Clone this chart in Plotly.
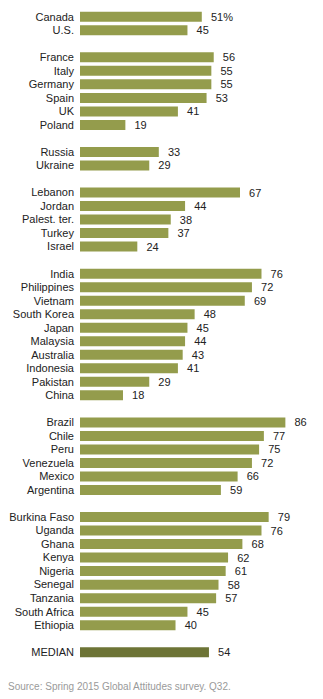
import plotly.graph_objects as go

groups = [
    (["Canada", "U.S."], [51, 45]),
    (["France", "Italy", "Germany", "Spain", "UK", "Poland"], [56, 55, 55, 53, 41, 19]),
    (["Russia", "Ukraine"], [33, 29]),
    (["Lebanon", "Jordan", "Palest. ter.", "Turkey", "Israel"], [67, 44, 38, 37, 24]),
    (["India", "Philippines", "Vietnam", "South Korea", "Japan", "Malaysia", "Australia",
      "Indonesia", "Pakistan", "China"], [76, 72, 69, 48, 45, 44, 43, 41, 29, 18]),
    (["Brazil", "Chile", "Peru", "Venezuela", "Mexico", "Argentina"], [86, 77, 75, 72, 66, 59]),
    (["Burkina Faso", "Uganda", "Ghana", "Kenya", "Nigeria", "Senegal", "Tanzania",
      "South Africa", "Ethiopia"], [79, 76, 68, 62, 61, 58, 57, 45, 40]),
]
median_label = "MEDIAN"
median_value = 54
source = "Source: Spring 2015 Global Attitudes survey. Q32."

cats, vals, colors, texts = [], [], [], []
blank = 0
for gi, (names, values) in enumerate(groups):
    for n, v in zip(names, values):
        cats.append(n)
        vals.append(v)
        colors.append("#949c4c")
        texts.append(f"{v}%" if n == "Canada" else f"{v}")
    blank += 1
    cats.append(" " * blank)
    vals.append(None)
    colors.append("#949c4c")
    texts.append("")
cats.append(median_label)
vals.append(median_value)
colors.append("#6d7436")
texts.append(str(median_value))

FONT = "Liberation Sans, Arial, sans-serif"
fig = go.Figure(go.Bar(
    y=cats, x=vals, orientation="h",
    marker=dict(color=colors, line=dict(width=0)),
    text=["\u00a0\u00a0" + t if t else "" for t in texts],
    textposition="outside", cliponaxis=False, constraintext="none",
    textfont=dict(family=FONT, size=11, color="#222222"),
    hoverinfo="skip",
))

plot_l, plot_r, plot_t, plot_b = 80, 3, 10, 40
plot_w = 323 - plot_l - plot_r
plot_h = 699 - plot_t - plot_b

fig.update_layout(
    width=323, height=699,
    margin=dict(l=plot_l, r=plot_r, t=plot_t, b=plot_b),
    paper_bgcolor="white", plot_bgcolor="white",
    bargap=0.26, showlegend=False, uniformtext=dict(mode=False),
    font=dict(family=FONT, size=11, color="#222222"),
    xaxis=dict(range=[0, 100.5], visible=False, fixedrange=True),
    yaxis=dict(type="category", categoryorder="array", categoryarray=cats,
               autorange="reversed", showgrid=False, zeroline=False, showline=False,
               ticks="", ticklabelstandoff=5,
               tickfont=dict(family=FONT, size=11, color="#222222")),
    annotations=[dict(text=source, x=(6 - plot_l) / plot_w, y=(699 - plot_b - 686) / plot_h,
                      xref="paper", yref="paper", showarrow=False,
                      xanchor="left", yanchor="middle",
                      font=dict(size=10, color="#9a9a9a", family=FONT))],
)

fig.write_html("out.html")
